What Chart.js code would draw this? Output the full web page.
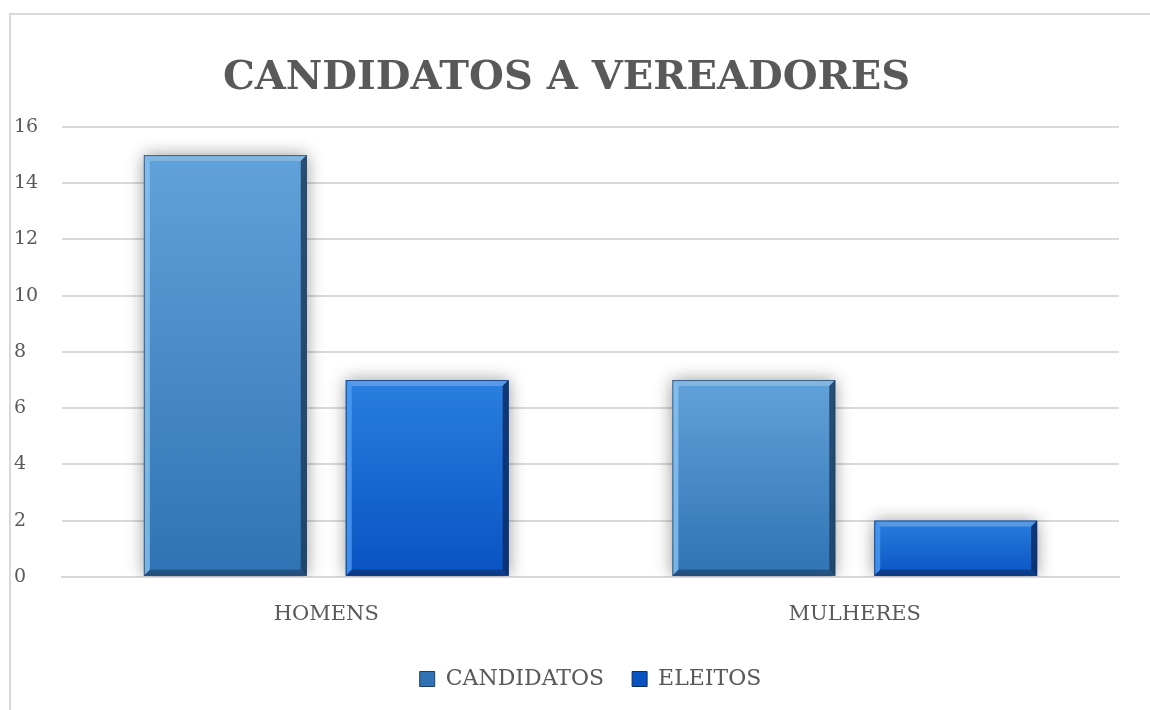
<!DOCTYPE html>
<html>
<head>
<meta charset="utf-8">
<script src="https://cdn.jsdelivr.net/npm/chart.js@4/dist/chart.umd.min.js"></script>
<style>
  html, body { margin: 0; padding: 0; background: #fff; }
  #frame {
    position: absolute; left: 9px; top: 13px;
    width: 1200px; height: 800px;
    border: 2px solid #d9d9d9; box-sizing: border-box;
  }
  #wrap { position: absolute; left: 0; top: 0; width: 1150px; height: 710px; }
</style>
</head>
<body>
<div id="frame"></div>
<div id="wrap"><canvas id="chart"></canvas></div>
<script>
const categories = ['HOMENS', 'MULHERES'];
const candidatos = [15, 7];
const eleitos = [7, 2];
const yTicks = [0, 2, 4, 6, 8, 10, 12, 14, 16];

const textColor = '#595959';
const gridColor = '#d9d9d9';
const fontFamily = "'DejaVu Serif', 'Liberation Serif', serif";

// bar colours: [top, bottom, dark edge, light edge]
const candColors = ['#62a2da', '#2f73b4', '#1d3e62', '#8cc3f0'];
const eleColors = ['#2a7fdf', '#0952c2', '#0c2d66', '#4c9cf2'];

function barGradient(colors) {
    return function (context) {
        const chart = context.chart;
        const area = chart.chartArea;
        if (!area || context.raw === undefined) return colors[0];
        const y = chart.scales.y;
        const top = y.getPixelForValue(context.raw);
        const bottom = y.getPixelForValue(0);
        const g = chart.ctx.createLinearGradient(0, top, 0, bottom);
        g.addColorStop(0, colors[0]);
        g.addColorStop(1, colors[1]);
        return g;
    };
}

// soft shadow + bevelled edges, like the Excel 3-D bar effect
const bevelPlugin = {
    id: 'bevel',
    beforeDatasetsDraw(chart) {
        const ctx = chart.ctx;
        ctx.save();
        ctx.shadowColor = 'rgba(0,0,0,0.4)';
        ctx.shadowBlur = 16;
        ctx.shadowOffsetX = 0;
        ctx.shadowOffsetY = 0;
    },
    afterDatasetsDraw(chart) {
        const ctx = chart.ctx;
        ctx.restore();
        const sets = [candColors, eleColors];
        chart.data.datasets.forEach((ds, di) => {
            const meta = chart.getDatasetMeta(di);
            const c = sets[di];
            meta.data.forEach(bar => {
                const p = bar.getProps(['x', 'y', 'base', 'width'], true);
                const l = p.x - p.width / 2, r = p.x + p.width / 2;
                const t = p.y, b = p.base, s = 6;
                ctx.save();
                // top
                ctx.fillStyle = 'rgba(255,255,255,0.22)';
                ctx.beginPath();
                ctx.moveTo(l, t); ctx.lineTo(r, t); ctx.lineTo(r - s, t + s); ctx.lineTo(l + s, t + s);
                ctx.fill();
                // left
                ctx.fillStyle = c[3];
                ctx.globalAlpha = 0.8;
                ctx.beginPath();
                ctx.moveTo(l, t); ctx.lineTo(l + s, t + s); ctx.lineTo(l + s, b - s); ctx.lineTo(l, b);
                ctx.fill();
                // right
                ctx.globalAlpha = 0.85;
                ctx.fillStyle = c[2];
                ctx.beginPath();
                ctx.moveTo(r, t); ctx.lineTo(r - s, t + s); ctx.lineTo(r - s, b - s); ctx.lineTo(r, b);
                ctx.fill();
                // bottom
                ctx.globalAlpha = 0.6;
                ctx.beginPath();
                ctx.moveTo(l, b); ctx.lineTo(l + s, b - s); ctx.lineTo(r - s, b - s); ctx.lineTo(r, b);
                ctx.fill();
                // outline
                ctx.globalAlpha = 0.7;
                ctx.strokeStyle = c[2];
                ctx.lineWidth = 1;
                ctx.strokeRect(l + 0.5, t + 0.5, p.width - 1, b - t - 1);
                ctx.restore();
            });
        });
    }
};

new Chart(document.getElementById('chart'), {
    type: 'bar',
    data: {
        labels: categories,
        datasets: [{
            label: 'CANDIDATOS',
            data: candidatos,
            backgroundColor: barGradient(candColors),
            categoryPercentage: 0.764,
            barPercentage: 0.807
        }, {
            label: 'ELEITOS',
            data: eleitos,
            backgroundColor: barGradient(eleColors),
            categoryPercentage: 0.764,
            barPercentage: 0.807
        }]
    },
    plugins: [bevelPlugin],
    options: {
        responsive: true,
        maintainAspectRatio: false,
        animation: false,
        layout: { padding: { left: 14, right: 31, top: 37, bottom: 10 } },
        plugins: {
            title: {
                display: true,
                text: 'CANDIDATOS A VEREADORES',
                color: textColor,
                font: { family: fontFamily, size: 40, weight: 'bold' },
                padding: { top: 18, bottom: 24 }
            },
            legend: {
                position: 'bottom',
                fullSize: false,
                labels: {
                    color: textColor,
                    font: { family: fontFamily, size: 22 },
                    boxWidth: 15,
                    boxHeight: 15,
                    padding: 28,
                    generateLabels(chart) {
                        const cols = [candColors, eleColors];
                        return chart.data.datasets.map((ds, i) => ({
                            text: ds.label,
                            fillStyle: cols[i][1],
                            strokeStyle: cols[i][2],
                            lineWidth: 1,
                            fontColor: textColor,
                            datasetIndex: i
                        }));
                    }
                }
            },
            tooltip: { enabled: false }
        },
        scales: {
            x: {
                grid: { display: false },
                border: { color: gridColor, width: 2 },
                ticks: {
                    color: textColor,
                    font: { family: fontFamily, size: 21 },
                    padding: 17
                },
                afterFit(axis) { axis.height -= 4; }
            },
            y: {
                min: 0,
                max: 16,
                afterBuildTicks(axis) { axis.ticks = yTicks.map(v => ({ value: v })); },
                afterFit(axis) { axis.width = 48; },
                grid: { color: gridColor, lineWidth: 2, drawTicks: false },
                border: { display: false },
                ticks: {
                    color: textColor,
                    font: { family: fontFamily, size: 19 },
                    padding: 25,
                    crossAlign: 'far'
                }
            }
        }
    }
});
</script>
</body>
</html>
